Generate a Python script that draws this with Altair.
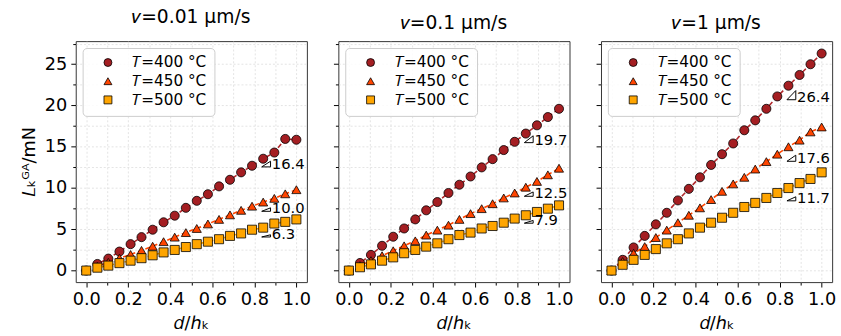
import altair as alt
import pandas as pd

FONT = "DejaVu Sans"

# ---------------- data ----------------
d_over_h = [0.0, 0.053, 0.105, 0.158, 0.211, 0.263, 0.316, 0.368, 0.421, 0.474,
            0.526, 0.579, 0.632, 0.684, 0.737, 0.789, 0.842, 0.895, 0.947, 1.0]

panel_titles = ["𝑣=0.01 μm/s", "𝑣=0.1 μm/s", "𝑣=1 μm/s"]
temps = ["𝑇=400 °C", "𝑇=450 °C", "𝑇=500 °C"]

v001_T400 = [0, 0.8, 1.45, 2.3, 3.2, 4.05, 4.95, 5.85, 6.65, 7.6, 8.45, 9.25, 10.2, 11.0, 11.9, 12.7, 13.55, 14.3, 15.95, 15.85]
v001_T450 = [0, 0.5, 1.0, 1.5, 1.95, 2.45, 2.95, 3.5, 4.05, 4.6, 5.1, 5.65, 6.2, 6.75, 7.3, 7.8, 8.3, 8.75, 9.3, 9.8]
v001_T500 = [0, 0.35, 0.6, 0.9, 1.2, 1.5, 1.85, 2.2, 2.5, 2.85, 3.2, 3.5, 3.8, 4.2, 4.5, 4.95, 5.2, 5.7, 5.9, 6.2]

v01_T400 = [0, 0.92, 1.9, 3.0, 4.1, 5.1, 6.2, 7.3, 8.3, 9.4, 10.4, 11.4, 12.5, 13.5, 14.6, 15.6, 16.6, 17.6, 18.6, 19.6]
v01_T450 = [0, 0.6, 1.2, 1.8, 2.4, 3.0, 3.6, 4.3, 4.9, 5.5, 6.2, 6.9, 7.5, 8.1, 8.8, 9.4, 10.1, 10.8, 11.6, 12.4]
v01_T500 = [0, 0.4, 0.75, 1.2, 1.6, 2.1, 2.5, 2.9, 3.3, 3.8, 4.3, 4.6, 5.1, 5.4, 5.8, 6.3, 6.7, 7.1, 7.5, 7.9]

v1_T400 = [0, 1.3, 2.8, 4.2, 5.6, 7.0, 8.5, 9.9, 11.3, 12.8, 14.1, 15.4, 17.0, 18.2, 19.6, 21.1, 22.4, 23.7, 25.0, 26.3]
v1_T450 = [0, 1.1, 2.1, 2.9, 4.0, 4.9, 5.8, 6.7, 7.6, 8.6, 9.6, 10.5, 11.3, 12.3, 13.2, 14.1, 15.0, 15.8, 16.8, 17.4]
v1_T500 = [0, 0.7, 1.3, 1.9, 2.6, 3.3, 3.8, 4.5, 5.2, 5.8, 6.4, 7.0, 7.7, 8.2, 8.8, 9.4, 10.0, 10.6, 11.1, 11.9]

series_by_panel = [
    [v001_T400, v001_T450, v001_T500],
    [v01_T400, v01_T450, v01_T500],
    [v1_T400, v1_T450, v1_T500],
]

slopes = [[16.4, 10.0, 6.3], [19.7, 12.5, 7.9], [26.4, 17.6, 11.7]]
slope_anchor_y = [[12.56, 7.18, 4.07], [15.5, 9.0, 5.74], [20.7, 13.24, 8.45]]
slope_anchor_x = 0.835
slope_dx = 0.042

# ---------------- style ----------------
fill_colors = ["#a41e22", "#ff4500", "#ffa500"]
line_colors = ["#b0282c", "#ff4500", "#ffa500"]
shapes = ["circle", "triangle-up", "square"]

x_ticks = [round(i * 0.1, 1) for i in range(11)]
y_ticks = [i * 2.5 for i in range(12)]

x_scale = alt.Scale(domain=[-0.05, 1.05], nice=False, zero=False)
y_scale = alt.Scale(domain=[-1.4, 27.8], nice=False, zero=False)

x_major_test = "abs(datum.value*5 - round(datum.value*5)) < 0.001"
y_major_test = "datum.value % 5 == 0"


def x_axis():
    return alt.Axis(
        values=x_ticks,
        labelExpr=f"{x_major_test} ? format(datum.value, '.1f') : ''",
        tickSize={"condition": {"test": x_major_test, "value": 5}, "value": 3},
        title="𝑑/ℎₖ",
        labelOverlap=False,
    )


def y_axis(first):
    if first:
        return alt.Axis(
            values=y_ticks,
            labelExpr=f"{y_major_test} ? datum.label : ''",
            tickSize={"condition": {"test": y_major_test, "value": 5}, "value": 3},
            title="𝐿ₖᴳᴬ/mN",
            labelOverlap=False,
        )
    return alt.Axis(
        values=y_ticks,
        labels=False,
        tickSize={"condition": {"test": y_major_test, "value": 5}, "value": 3},
        title=None,
    )


legend = dict(
    title=None, orient="top-left", offset=7, padding=7,
    fillColor="rgba(255,255,255,0.85)", strokeColor="#cccccc", cornerRadius=4,
    labelFontSize=15.5, labelFont=FONT, labelColor="black",
    symbolSize=65, symbolStrokeColor="black", symbolStrokeWidth=0.8,
    symbolOffset=11, labelOffset=17, rowPadding=2,
)

panels = []
for p in range(3):
    rows = []
    for s in range(3):
        for xv, yv in zip(d_over_h, series_by_panel[p][s]):
            rows.append({"x": xv, "y": yv, "series": temps[s]})
    df = pd.DataFrame(rows)

    tri_rows, txt_rows = [], []
    for s in range(3):
        b = slope_anchor_y[p][s]
        sl = slopes[p][s]
        x0 = slope_anchor_x
        x1 = slope_anchor_x + slope_dx
        pts = [(x0, b), (x1, b), (x1, b + sl * slope_dx), (x0, b)]
        for k, (a, c) in enumerate(pts):
            tri_rows.append({"x": a, "y": c, "tri": temps[s], "k": k})
        txt_rows.append({"x": x1 + 0.006, "y": b + 0.35, "label": f"{sl:.1f}"})
    tri_df = pd.DataFrame(tri_rows)
    txt_df = pd.DataFrame(txt_rows)

    X = alt.X("x:Q", scale=x_scale, axis=x_axis())
    Y = alt.Y("y:Q", scale=y_scale, axis=y_axis(p == 0))

    line_layers = [
        alt.Chart(df)
        .transform_filter(alt.datum.series == temps[s])
        .mark_line(strokeDash=[5, 3], strokeWidth=1.6, color=line_colors[s])
        .encode(x=X, y=Y)
        for s in range(3)
    ]

    points = alt.Chart(df).mark_point(
        filled=True, stroke="black", strokeWidth=0.8, size=85, opacity=1
    ).encode(
        x=X, y=Y,
        color=alt.Color("series:N", scale=alt.Scale(domain=temps, range=fill_colors),
                        legend=alt.Legend(**legend)),
        shape=alt.Shape("series:N", scale=alt.Scale(domain=temps, range=shapes),
                        legend=alt.Legend(**legend)),
    )

    tri = alt.Chart(tri_df).mark_line(color="black", strokeWidth=1).encode(
        x=X, y=Y, detail="tri:N", order="k:Q"
    )
    txt = alt.Chart(txt_df).mark_text(
        align="left", baseline="middle", fontSize=15, font=FONT, color="black"
    ).encode(x=X, y=Y, text="label:N")

    panel = alt.layer(*line_layers, points, tri, txt).properties(
        width=235, height=245,
        title=alt.TitleParams(panel_titles[p], fontSize=19, fontWeight="normal", font=FONT, offset=8),
    )
    panels.append(panel)

chart = (
    alt.hconcat(*panels, spacing=21)
    .resolve_scale(shape="independent", color="independent")
    .properties(padding={"left": 20, "top": 5, "right": 4, "bottom": 2}, background="white")
    .configure_view(stroke="#333333", strokeWidth=1)
    .configure_axis(
        domain=False, grid=True, gridColor="#dddddd", gridDash=[2, 2], gridWidth=0.8,
        tickColor="black", tickWidth=1, labelFont=FONT, titleFont=FONT,
        labelFontSize=18, titleFontSize=18, labelColor="black", titleColor="black",
        titleFontWeight="normal", labelPadding=4, titlePadding=6,
    )
    .configure_title(color="black")
)

chart.save("out.html", embed_options={"renderer": "svg", "actions": False})
